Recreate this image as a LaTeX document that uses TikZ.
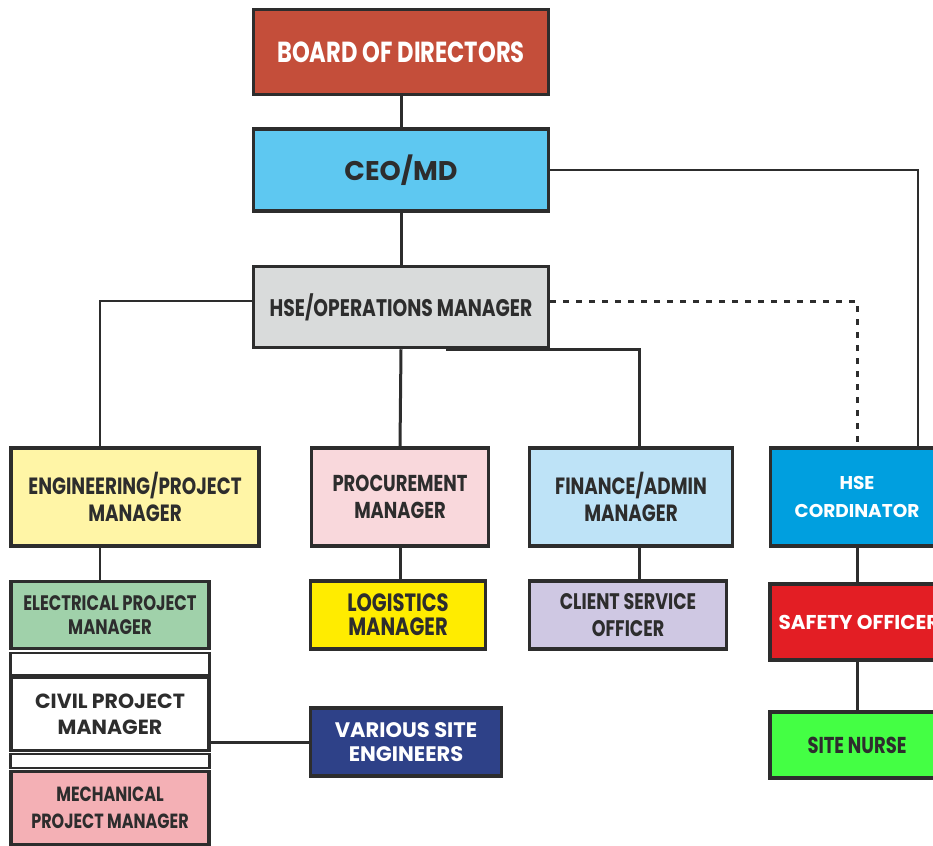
\documentclass[tikz,border=0pt]{standalone}
\usepackage{fontspec}
\setmainfont{Poppins}
\newfontfamily\narrowfont{Poppins}[FakeStretch=0.78]
\usetikzlibrary{positioning}
\definecolor{boardred}{HTML}{C44E3A}
\definecolor{ceoblue}{HTML}{5EC8F1}
\definecolor{opsgray}{HTML}{D9DBDB}
\definecolor{engyellow}{HTML}{FFF5A6}
\definecolor{procpink}{HTML}{F9D8DC}
\definecolor{finblue}{HTML}{BEE3F7}
\definecolor{cordblue}{HTML}{009FDF}
\definecolor{elecgreen}{HTML}{A0D1AA}
\definecolor{mechpink}{HTML}{F4B0B5}
\definecolor{logyellow}{HTML}{FFEC00}
\definecolor{clientlilac}{HTML}{CFC8E3}
\definecolor{sitenavy}{HTML}{2E4188}
\definecolor{safetyred}{HTML}{E31E24}
\definecolor{nursegreen}{HTML}{44FF44}
\definecolor{linedark}{HTML}{2D2D2D}
\tikzstyle{post} = [rectangle, draw=linedark, line width=3.5pt, align=center, text=linedark, inner sep=0pt]
\tikzstyle{blank} = [rectangle, draw=linedark, line width=2.5pt, fill=white]
\tikzstyle{link} = [draw=linedark, line width=3pt]
\tikzstyle{thinlink} = [draw=linedark, line width=1.5pt]
% font size, baseline skip
\newcommand{\nf}[2]{\narrowfont\bfseries\fontsize{#1}{#2}\selectfont}
\newcommand{\wf}[2]{\bfseries\fontsize{#1}{#2}\selectfont}

\begin{document}
\begin{tikzpicture}[x=1pt, y=-1pt]
			\useasboundingbox (0,0) rectangle (933,845);
			\node (board) [post, fill=boardred, text=white, minimum width=295, minimum height=85, font=\nf{29}{34}] at (401,52) {BOARD OF DIRECTORS};
			\node (ceo) [post, fill=ceoblue, minimum width=295, minimum height=82, font=\wf{27}{32}] at (401,170) {CEO/MD};
			\node (ops) [post, fill=opsgray, minimum width=295, minimum height=81, font=\nf{24}{28}] at (401,307) {HSE/OPERATIONS MANAGER};
			\node (eng) [post, fill=engyellow, minimum width=248, minimum height=98, font=\nf{23.5}{27.5}] at (135,497) {ENGINEERING/PROJECT\\MANAGER};
			\node (proc) [post, fill=procpink, minimum width=177, minimum height=98, font=\nf{23}{27}] at (400,497) {PROCUREMENT\\MANAGER};
			\node (fin) [post, fill=finblue, minimum width=203, minimum height=98, font=\nf{23.5}{27.5}] at (631,497) {FINANCE/ADMIN\\MANAGER};
			\node (cord) [post, fill=cordblue, text=white, minimum width=173, minimum height=98, font=\wf{18.5}{28}] at (857,497) {HSE\\CORDINATOR};
			\node (elec) [post, fill=elecgreen, minimum width=198, minimum height=67, font=\nf{21}{24.5}] at (110,615) {ELECTRICAL PROJECT\\MANAGER};
			\node (gapa) [blank, minimum width=199, minimum height=22] at (110,664) {};
			\node (civil) [post, fill=white, minimum width=198, minimum height=73, font=\wf{20.5}{26.5}] at (110,714) {CIVIL PROJECT\\MANAGER};
			\node (gapb) [blank, minimum width=199, minimum height=14] at (110,761) {};
			\node (mech) [post, fill=mechpink, minimum width=198, minimum height=73, font=\nf{20.5}{26.5}] at (110,808) {MECHANICAL\\PROJECT MANAGER};
			\node (logist) [post, fill=logyellow, minimum width=175, minimum height=68, font=\nf{25}{24}] at (398,615) {LOGISTICS\\MANAGER};
			\node (client) [post, fill=clientlilac, minimum width=197, minimum height=68, font=\nf{22.5}{26.5}] at (628,615) {CLIENT SERVICE\\OFFICER};
			\node (sites) [post, fill=sitenavy, text=white, minimum width=191, minimum height=68, font=\wf{21}{24.5}] at (406,742) {VARIOUS SITE\\ENGINEERS};
			\node (safety) [post, fill=safetyred, text=white, minimum width=174, minimum height=76, font=\wf{20}{24}] at (857,622) {\hspace{4pt}\raisebox{-4pt}{SAFETY OFFICER}};
			\node (nurse) [post, fill=nursegreen, minimum width=174, minimum height=66, font=\nf{23}{27}] at (857,745) {SITE NURSE};

			\draw [link] (board) -- (ceo);
			\draw [link] (ceo) -- (ops);
			\draw [thinlink] (ceo.east) -| ([xshift=61pt]cord.north);
			\draw [thinlink] ([yshift=6pt]ops.west) -| ([xshift=-35pt]eng.north);
			\draw [link] (ops.south) -- (proc.north);
			\draw [link] ([xshift=45pt]ops.south) -| ([xshift=8pt]fin.north);
			\draw [link, dash pattern=on 6pt off 7pt] ([yshift=6pt]ops.east) -| (cord.north);
			\draw [thinlink] ([xshift=-35pt]eng.south) -- ([xshift=-10pt]elec.north);
			\draw [link] (proc.south) -- (proc.south |- logist.north);
			\draw [link] ([xshift=8pt]fin.south) -- ([xshift=8pt]fin.south |- client.north);
			\draw [link] (sites.west) -- (sites.west -| civil.east);
			\draw [link] (cord) -- (safety);
			\draw [link] (safety) -- (nurse);
		\end{tikzpicture}
\end{document}
